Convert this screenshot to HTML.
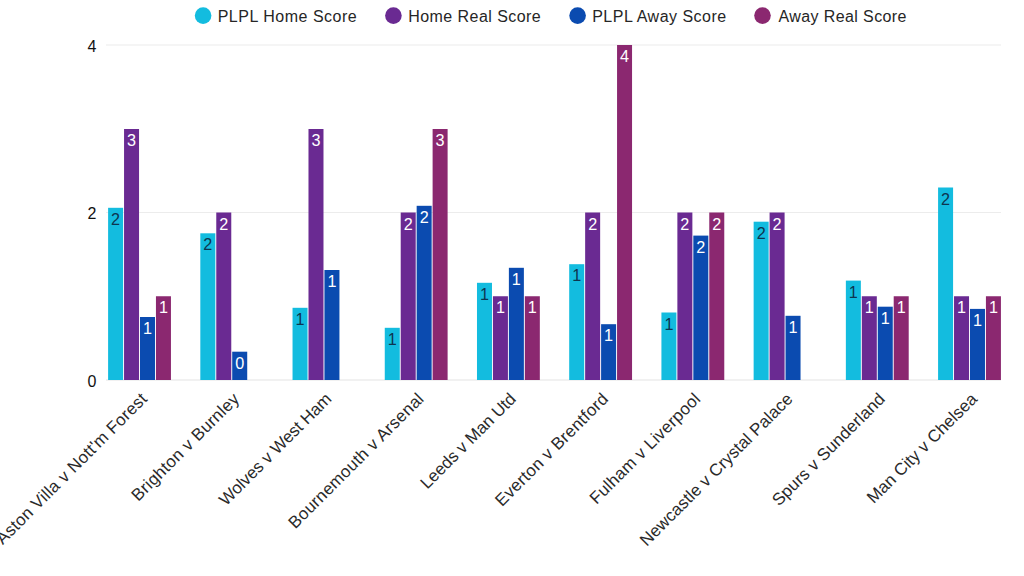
<!DOCTYPE html><html><head><meta charset="utf-8"><style>html,body{margin:0;padding:0;background:#fff;width:1024px;height:576px;overflow:hidden}svg{display:block;font-family:"Liberation Sans",sans-serif}</style></head><body>
<svg width="1024" height="576" viewBox="0 0 1024 576">
<rect x="106" y="44.5" width="895" height="1" fill="#ececec"/>
<text x="96.5" y="51.5" font-size="16" text-anchor="end" fill="#111">4</text>
<rect x="106" y="212.0" width="895" height="1" fill="#ececec"/>
<text x="96.5" y="219.0" font-size="16" text-anchor="end" fill="#111">2</text>
<rect x="106" y="379.5" width="895" height="1" fill="#e4e4e4"/>
<text x="96.5" y="386.5" font-size="16" text-anchor="end" fill="#111">0</text>
<rect x="108.10" y="207.8" width="15.0" height="172.20" fill="#13bcdf"/>
<text x="115.60" y="224.80" font-size="16.2" text-anchor="middle" fill="#0d3550">2</text>
<rect x="124.05" y="129" width="15.0" height="251.00" fill="#6a2a92"/>
<text x="131.55" y="146.00" font-size="16.2" text-anchor="middle" fill="#ffffff">3</text>
<rect x="140.00" y="317" width="15.0" height="63.00" fill="#0b4bb0"/>
<text x="147.50" y="334.00" font-size="16.2" text-anchor="middle" fill="#ffffff">1</text>
<rect x="155.95" y="296.25" width="15.0" height="83.75" fill="#8b2870"/>
<text x="163.45" y="313.25" font-size="16.2" text-anchor="middle" fill="#ffffff">1</text>
<text transform="translate(148.10,400) rotate(-45)" font-size="17" text-anchor="end" textLength="205.5" lengthAdjust="spacing" fill="#2a2a2a">Aston Villa v Nott&#39;m Forest</text>
<rect x="200.32" y="233.3" width="15.0" height="146.70" fill="#13bcdf"/>
<text x="207.82" y="250.30" font-size="16.2" text-anchor="middle" fill="#0d3550">2</text>
<rect x="216.27" y="212.5" width="15.0" height="167.50" fill="#6a2a92"/>
<text x="223.77" y="229.50" font-size="16.2" text-anchor="middle" fill="#ffffff">2</text>
<rect x="232.22" y="351.7" width="15.0" height="28.30" fill="#0b4bb0"/>
<text x="239.72" y="368.70" font-size="16.2" text-anchor="middle" fill="#ffffff">0</text>
<text transform="translate(240.32,400) rotate(-45)" font-size="17" text-anchor="end" textLength="144.2" lengthAdjust="spacing" fill="#2a2a2a">Brighton v Burnley</text>
<rect x="292.54" y="307.8" width="15.0" height="72.20" fill="#13bcdf"/>
<text x="300.04" y="324.80" font-size="16.2" text-anchor="middle" fill="#0d3550">1</text>
<rect x="308.49" y="129" width="15.0" height="251.00" fill="#6a2a92"/>
<text x="315.99" y="146.00" font-size="16.2" text-anchor="middle" fill="#ffffff">3</text>
<rect x="324.44" y="270" width="15.0" height="110.00" fill="#0b4bb0"/>
<text x="331.94" y="287.00" font-size="16.2" text-anchor="middle" fill="#ffffff">1</text>
<text transform="translate(332.54,400) rotate(-45)" font-size="17" text-anchor="end" textLength="150.7" lengthAdjust="spacing" fill="#2a2a2a">Wolves v West Ham</text>
<rect x="384.76" y="327.8" width="15.0" height="52.20" fill="#13bcdf"/>
<text x="392.26" y="344.80" font-size="16.2" text-anchor="middle" fill="#0d3550">1</text>
<rect x="400.71" y="212.5" width="15.0" height="167.50" fill="#6a2a92"/>
<text x="408.21" y="229.50" font-size="16.2" text-anchor="middle" fill="#ffffff">2</text>
<rect x="416.66" y="205.8" width="15.0" height="174.20" fill="#0b4bb0"/>
<text x="424.16" y="222.80" font-size="16.2" text-anchor="middle" fill="#ffffff">2</text>
<rect x="432.61" y="129" width="15.0" height="251.00" fill="#8b2870"/>
<text x="440.11" y="146.00" font-size="16.2" text-anchor="middle" fill="#ffffff">3</text>
<text transform="translate(424.76,400) rotate(-45)" font-size="17" text-anchor="end" textLength="183.2" lengthAdjust="spacing" fill="#2a2a2a">Bournemouth v Arsenal</text>
<rect x="476.98" y="282.8" width="15.0" height="97.20" fill="#13bcdf"/>
<text x="484.48" y="299.80" font-size="16.2" text-anchor="middle" fill="#0d3550">1</text>
<rect x="492.93" y="296.25" width="15.0" height="83.75" fill="#6a2a92"/>
<text x="500.43" y="313.25" font-size="16.2" text-anchor="middle" fill="#ffffff">1</text>
<rect x="508.88" y="267.8" width="15.0" height="112.20" fill="#0b4bb0"/>
<text x="516.38" y="284.80" font-size="16.2" text-anchor="middle" fill="#ffffff">1</text>
<rect x="524.83" y="296.25" width="15.0" height="83.75" fill="#8b2870"/>
<text x="532.33" y="313.25" font-size="16.2" text-anchor="middle" fill="#ffffff">1</text>
<text transform="translate(516.98,400) rotate(-45)" font-size="17" text-anchor="end" textLength="127" lengthAdjust="spacing" fill="#2a2a2a">Leeds v Man Utd</text>
<rect x="569.20" y="264.2" width="15.0" height="115.80" fill="#13bcdf"/>
<text x="576.70" y="281.20" font-size="16.2" text-anchor="middle" fill="#0d3550">1</text>
<rect x="585.15" y="212.5" width="15.0" height="167.50" fill="#6a2a92"/>
<text x="592.65" y="229.50" font-size="16.2" text-anchor="middle" fill="#ffffff">2</text>
<rect x="601.10" y="324.2" width="15.0" height="55.80" fill="#0b4bb0"/>
<text x="608.60" y="341.20" font-size="16.2" text-anchor="middle" fill="#ffffff">1</text>
<rect x="617.05" y="45" width="15.0" height="335.00" fill="#8b2870"/>
<text x="624.55" y="62.00" font-size="16.2" text-anchor="middle" fill="#ffffff">4</text>
<text transform="translate(609.20,400) rotate(-45)" font-size="17" text-anchor="end" textLength="151.7" lengthAdjust="spacing" fill="#2a2a2a">Everton v Brentford</text>
<rect x="661.42" y="312.5" width="15.0" height="67.50" fill="#13bcdf"/>
<text x="668.92" y="329.50" font-size="16.2" text-anchor="middle" fill="#0d3550">1</text>
<rect x="677.37" y="212.5" width="15.0" height="167.50" fill="#6a2a92"/>
<text x="684.87" y="229.50" font-size="16.2" text-anchor="middle" fill="#ffffff">2</text>
<rect x="693.32" y="235.6" width="15.0" height="144.40" fill="#0b4bb0"/>
<text x="700.82" y="252.60" font-size="16.2" text-anchor="middle" fill="#ffffff">2</text>
<rect x="709.27" y="212.5" width="15.0" height="167.50" fill="#8b2870"/>
<text x="716.77" y="229.50" font-size="16.2" text-anchor="middle" fill="#ffffff">2</text>
<text transform="translate(701.42,400) rotate(-45)" font-size="17" text-anchor="end" textLength="148.5" lengthAdjust="spacing" fill="#2a2a2a">Fulham v Liverpool</text>
<rect x="753.64" y="221.7" width="15.0" height="158.30" fill="#13bcdf"/>
<text x="761.14" y="238.70" font-size="16.2" text-anchor="middle" fill="#0d3550">2</text>
<rect x="769.59" y="212.5" width="15.0" height="167.50" fill="#6a2a92"/>
<text x="777.09" y="229.50" font-size="16.2" text-anchor="middle" fill="#ffffff">2</text>
<rect x="785.54" y="315.8" width="15.0" height="64.20" fill="#0b4bb0"/>
<text x="793.04" y="332.80" font-size="16.2" text-anchor="middle" fill="#ffffff">1</text>
<text transform="translate(793.64,400) rotate(-45)" font-size="17" text-anchor="end" textLength="207.8" lengthAdjust="spacing" fill="#2a2a2a">Newcastle v Crystal Palace</text>
<rect x="845.86" y="280.6" width="15.0" height="99.40" fill="#13bcdf"/>
<text x="853.36" y="297.60" font-size="16.2" text-anchor="middle" fill="#0d3550">1</text>
<rect x="861.81" y="296.25" width="15.0" height="83.75" fill="#6a2a92"/>
<text x="869.31" y="313.25" font-size="16.2" text-anchor="middle" fill="#ffffff">1</text>
<rect x="877.76" y="306.7" width="15.0" height="73.30" fill="#0b4bb0"/>
<text x="885.26" y="323.70" font-size="16.2" text-anchor="middle" fill="#ffffff">1</text>
<rect x="893.71" y="296.25" width="15.0" height="83.75" fill="#8b2870"/>
<text x="901.21" y="313.25" font-size="16.2" text-anchor="middle" fill="#ffffff">1</text>
<text transform="translate(885.86,400) rotate(-45)" font-size="17" text-anchor="end" textLength="151.1" lengthAdjust="spacing" fill="#2a2a2a">Spurs v Sunderland</text>
<rect x="938.08" y="187.5" width="15.0" height="192.50" fill="#13bcdf"/>
<text x="945.58" y="204.50" font-size="16.2" text-anchor="middle" fill="#0d3550">2</text>
<rect x="954.03" y="296.25" width="15.0" height="83.75" fill="#6a2a92"/>
<text x="961.53" y="313.25" font-size="16.2" text-anchor="middle" fill="#ffffff">1</text>
<rect x="969.98" y="308.9" width="15.0" height="71.10" fill="#0b4bb0"/>
<text x="977.48" y="325.90" font-size="16.2" text-anchor="middle" fill="#ffffff">1</text>
<rect x="985.93" y="296.25" width="15.0" height="83.75" fill="#8b2870"/>
<text x="993.43" y="313.25" font-size="16.2" text-anchor="middle" fill="#ffffff">1</text>
<text transform="translate(978.08,400) rotate(-45)" font-size="17" text-anchor="end" textLength="147.5" lengthAdjust="spacing" fill="#2a2a2a">Man City v Chelsea</text>
<circle cx="203.1" cy="15.6" r="8.3" fill="#13bcdf"/>
<text x="217.7" y="21.5" font-size="16" textLength="139" lengthAdjust="spacing" fill="#262626">PLPL Home Score</text>
<circle cx="393.4" cy="15.6" r="8.3" fill="#6a2a92"/>
<text x="408.2" y="21.5" font-size="16" textLength="132.5" lengthAdjust="spacing" fill="#262626">Home Real Score</text>
<circle cx="577.6" cy="15.6" r="8.3" fill="#0b4bb0"/>
<text x="592.2" y="21.5" font-size="16" textLength="134" lengthAdjust="spacing" fill="#262626">PLPL Away Score</text>
<circle cx="762.5" cy="15.6" r="8.3" fill="#8b2870"/>
<text x="778.5" y="21.5" font-size="16" textLength="128" lengthAdjust="spacing" fill="#262626">Away Real Score</text>
</svg></body></html>
